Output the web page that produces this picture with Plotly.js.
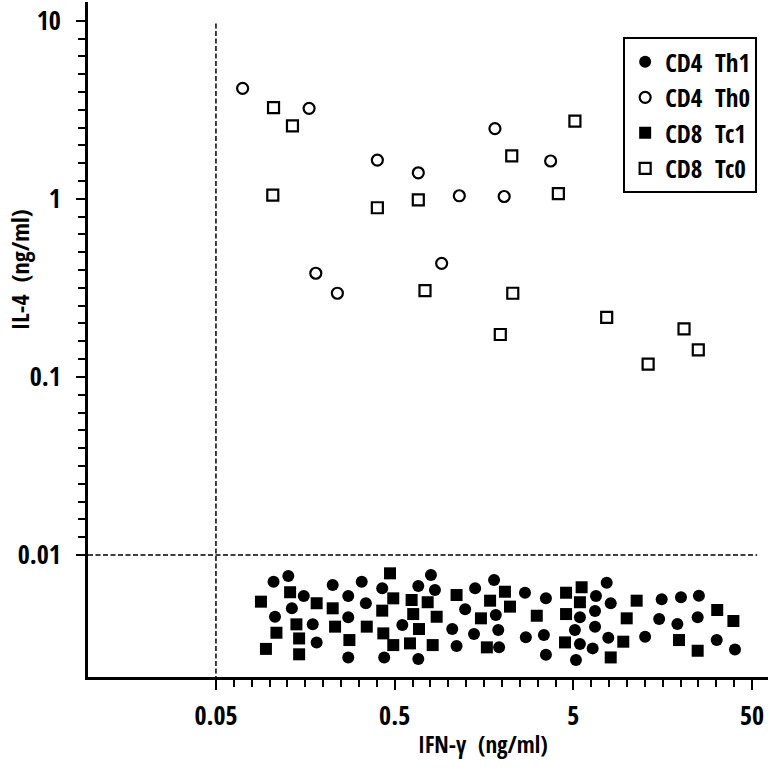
<!DOCTYPE html>
<html>
<head>
<meta charset="utf-8">
<script src="https://cdn.plot.ly/plotly-3.0.1.min.js"></script>
<style>html,body{margin:0;padding:0;background:#fff;}#chart{width:774px;height:772px;}</style>
</head>
<body>
<div id="chart"></div>
<script>
// CD4 Th1 (filled circles)
const th1X = [0.105, 0.127, 0.155, 0.133, 0.107, 0.174, 0.183, 0.225, 0.275, 0.327, 0.345, 0.275, 0.275,
  0.798, 0.426, 0.678, 0.840, 1.41, 1.80, 1.24, 1.84, 0.552, 1.05, 1.39, 1.90, 1.11, 1.92, 0.437, 0.678,
  2.68, 3.51, 2.71, 3.42, 3.51, 5.44, 6.69, 7.68, 8.09, 6.61, 5.10, 6.61, 5.44, 6.41, 5.17, 7.84,
  15.6, 20.0, 25.2, 15.1, 19.1, 24.8, 12.6, 31.7, 40.1];
const th1Y = [0.00708, 0.00762, 0.00589, 0.00502, 0.00450, 0.00408, 0.00323, 0.00678, 0.00589, 0.00708, 0.00536, 0.00447, 0.00266,
  0.00772, 0.00650, 0.00670, 0.00636, 0.00650, 0.00724, 0.00496, 0.00460, 0.00405, 0.00384, 0.00360, 0.00379, 0.00308, 0.00303, 0.00266, 0.00261,
  0.00614, 0.00571, 0.00345, 0.00355, 0.00275, 0.00447, 0.00589, 0.00699, 0.00536, 0.00485, 0.00379, 0.00396, 0.00316, 0.00299, 0.00257, 0.00343,
  0.00564, 0.00579, 0.00591, 0.00437, 0.00410, 0.00447, 0.00348, 0.00333, 0.00295];

// CD4 Th0 (open circles)
const th0X = [0.0705, 0.166, 1.82, 0.400, 0.678, 1.15, 2.05, 0.916, 0.181, 0.239, 3.73];
const th0Y = [4.17, 3.22, 2.48, 1.65, 1.40, 1.04, 1.03, 0.434, 0.382, 0.295, 1.63];

// CD8 Tc1 (filled squares)
const tc1X = [0.0893, 0.130, 0.183, 0.141, 0.109, 0.146, 0.0952, 0.146, 0.225, 0.232, 0.279, 0.349,
  0.471, 0.491, 0.622, 0.765, 0.426, 0.635, 0.859, 1.11, 1.71, 1.52, 0.684, 0.432, 0.491, 0.609, 0.816, 1.64,
  2.07, 2.21, 3.12, 4.55, 5.56, 5.44, 4.55, 4.49, 8.09, 9.51, 9.94, 11.3, 19.5, 24.8, 31.9, 39.3];
const tc1Y = [0.00547, 0.00618, 0.00536, 0.00408, 0.00366, 0.00340, 0.00297, 0.00277, 0.00502, 0.00396, 0.00333, 0.00396,
  0.00789, 0.00571, 0.00559, 0.00543, 0.00487, 0.00466, 0.00450, 0.00596, 0.00554, 0.00441, 0.00384, 0.00363, 0.00312, 0.00319, 0.00312, 0.00303,
  0.00622, 0.00513, 0.00456, 0.00614, 0.00659, 0.00543, 0.00466, 0.00323, 0.00266, 0.00326, 0.00441, 0.00554, 0.00333, 0.00290, 0.00491, 0.00426];

// CD8 Tc0 (open squares)
const tc0X = [0.105, 0.134, 0.104, 0.400, 0.678, 2.26, 0.739, 2.29, 1.95, 5.10, 4.12, 7.68, 20.8, 25.0, 13.1];
const tc0Y = [3.25, 2.57, 1.05, 0.891, 0.985, 1.74, 0.305, 0.295, 0.173, 2.73, 1.07, 0.216, 0.186, 0.142, 0.118];

const seriesNames = ['CD4\u00a0 Th1', 'CD4\u00a0 Th0', 'CD8\u00a0 Tc1', 'CD8\u00a0 Tc0'];

const xTickVals = [0.05, 0.5, 5, 50];
const xTickText = ['0.05', '0.5', '5', '50'];
const yTickVals = [0.01, 0.1, 1, 10];
const yTickText = ['0.01', '0.1', '1', '10'];

const xTitle = 'IFN-\u03b3\u00a0 (ng/ml)';
const yTitle = 'IL-4\u00a0 (ng/ml)';

// minor tick positions: every tenth of a decade between the outer labelled ticks
function minorTicks(lo, hi) {
  const out = [];
  const a = Math.log10(lo), b = Math.log10(hi);
  for (let k = 0; k <= Math.round((b - a) * 10); k++) out.push(Math.pow(10, a + k / 10));
  return out;
}

const FONT = "'Open Sans Condensed', 'Roboto Condensed', 'Liberation Sans', sans-serif";
const W = 800;

const traces = [
  {x: th1X, y: th1Y, name: seriesNames[0], type: 'scatter', mode: 'markers',
   marker: {symbol: 'circle', size: 12, color: '#000'}},
  {x: th0X, y: th0Y, name: seriesNames[1], type: 'scatter', mode: 'markers',
   marker: {symbol: 'circle-open', size: 11, color: '#000', line: {width: 2.2, color: '#000'}}},
  {x: tc1X, y: tc1Y, name: seriesNames[2], type: 'scatter', mode: 'markers',
   marker: {symbol: 'square', size: 12, color: '#000'}},
  {x: tc0X, y: tc0Y, name: seriesNames[3], type: 'scatter', mode: 'markers',
   marker: {symbol: 'square-open', size: 11, color: '#000', line: {width: 2.2, color: '#000'}}}
];

const layout = {
  width: 774, height: 772,
  margin: {l: 88, r: 6, t: 2, b: 95},
  paper_bgcolor: '#fff', plot_bgcolor: '#fff',
  font: {family: FONT, size: 25, color: '#000', weight: W},
  showlegend: true,
  legend: {x: 0.787, y: 0.948, xanchor: 'left', yanchor: 'top',
    bordercolor: '#000', borderwidth: 2, bgcolor: '#fff',
    font: {family: FONT, size: 25, color: '#000', weight: W}},
  xaxis: {type: 'log', range: [-2.017, 1.788], showgrid: false, zeroline: false,
    showline: true, linecolor: '#000', linewidth: 3,
    tickmode: 'array', tickvals: xTickVals, ticktext: xTickText,
    ticks: 'outside', ticklen: 10, tickwidth: 2, tickcolor: '#000', ticklabelstandoff: 4,
    tickfont: {family: FONT, size: 26, color: '#000', weight: W},
    minor: {tickmode: 'array', tickvals: minorTicks(0.05, 50), ticks: 'outside', ticklen: 7, tickwidth: 2, tickcolor: '#000', showgrid: false}},
  yaxis: {type: 'log', range: [-2.685, 1.105], showgrid: false, zeroline: false,
    showline: true, linecolor: '#000', linewidth: 3,
    tickmode: 'array', tickvals: yTickVals, ticktext: yTickText,
    ticks: 'outside', ticklen: 9, tickwidth: 2, tickcolor: '#000', ticklabelstandoff: 10,
    tickfont: {family: FONT, size: 26, color: '#000', weight: W},
    minor: {tickmode: 'array', tickvals: minorTicks(0.01, 10), ticks: 'outside', ticklen: 7, tickwidth: 2, tickcolor: '#000', showgrid: false}},
  shapes: [
    {type: 'line', xref: 'paper', yref: 'paper', x0: 0.18817, x1: 0.18817, y0: -0.017, y1: 0.971,
     line: {color: '#000', width: 1.5, dash: '5px,2.5px'}},
    {type: 'line', xref: 'paper', yref: 'y', x0: 0, x1: 0.984, y0: 0.01, y1: 0.01,
     line: {color: '#000', width: 1.5, dash: '5px,2.5px'}}
  ],
  annotations: [
    {text: xTitle, xref: 'paper', yref: 'paper', x: 0.581, y: -0.099, xanchor: 'center', yanchor: 'middle',
     showarrow: false, font: {family: FONT, size: 23, color: '#000', weight: W}},
    {text: yTitle, xref: 'paper', yref: 'paper', x: -0.1, y: 0.603, xanchor: 'center', yanchor: 'middle',
     textangle: -90, showarrow: false, font: {family: FONT, size: 24, color: '#000', weight: W}}
  ]
};

Plotly.newPlot('chart', traces, layout, {displayModeBar: false, staticPlot: true});
</script>
</body>
</html>
